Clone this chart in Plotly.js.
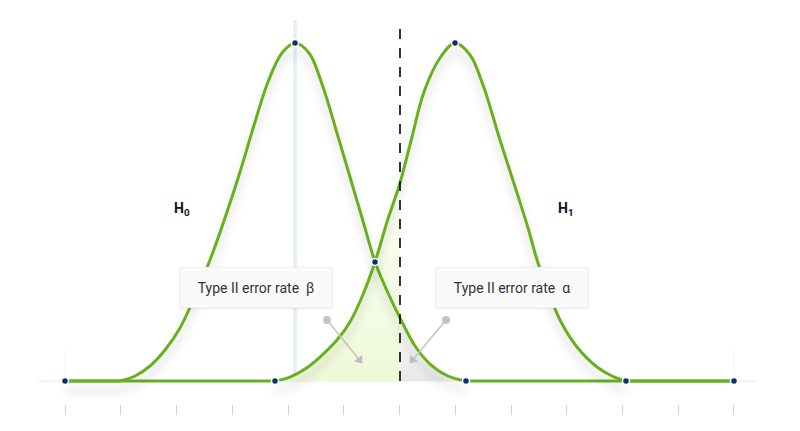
<!DOCTYPE html>
<html>
<head>
<meta charset="utf-8">
<script src="https://cdn.plot.ly/plotly-3.0.1.min.js"></script>
<style>
  html, body { margin: 0; padding: 0; background: #ffffff; }
  #chart { width: 800px; height: 431px; }
</style>
</head>
<body>
<div id="chart"></div>
<script>
// Tick positions along the horizontal axis
const tickValues = [0, 1, 2, 3, 4, 5, 6, 7, 8, 9, 10, 11, 12];

// Null hypothesis distribution (H0)
const h0X = [0, 0.987, 1.256, 1.525, 1.794, 2.063, 2.332, 2.601, 2.870, 3.139, 3.408, 3.641, 3.892, 4.126,
             4.377, 4.628, 4.879, 5.112, 5.345, 5.561, 5.794, 6.009, 6.278, 6.547, 6.870, 7.193, 12];
const h0Y = [0, 0, 1.48, 4.44, 9.17, 15.68, 25.15, 35.80, 48.22, 61.83, 76.63, 88.46, 97.04, 100,
             97.04, 86.98, 73.37, 60.36, 47.34, 35.21, 26.04, 18.64, 10.36, 5.03, 1.48, 0, 0];

// Alternative hypothesis distribution (H1)
const h1X = [0, 3.767, 4.036, 4.305, 4.574, 4.879, 5.112, 5.327, 5.561, 5.776, 6.009, 6.224, 6.439, 6.726, 6.996,
             7.265, 7.498, 7.803, 8.108, 8.305, 8.484, 8.682, 8.879, 9.184, 9.543, 9.812, 10.063, 12];
const h1Y = [0, 0, 1.18, 3.55, 7.10, 12.13, 17.46, 24.85, 35.21, 47.04, 58.58, 72.19, 85.50, 95.56, 100,
             96.45, 87.57, 71.30, 55.62, 45.27, 34.91, 26.04, 18.05, 10.06, 4.14, 1.48, 0, 0];

// Highlighted points
const dotX = [0, 3.767, 4.126, 5.561, 6.996, 7.193, 10.063, 12];
const dotY = [0, 0, 100, 35.21, 100, 0, 0, 0];

// Reference lines
const h0Mean = 4.126;
const criticalValue = 6.009;

// Pointer arrows: tails and heads
const arrowTailX = [4.70, 6.834], arrowTailY = [18.05, 18.05];
const arrowHeadX = [5.283, 6.235], arrowHeadY = [6.21, 6.21];

// Labels
const betaLabel = 'Type II error rate\u00a0 β';
const alphaLabel = 'Type II error rate\u00a0 α';
const h0Label = '<b>H<sub>0</sub></b>';
const h1Label = '<b>H<sub>1</sub></b>';

const green = '#6aaf1f';
const navy = '#0d2f6e';
const FONT = 'Roboto, "Open Sans", sans-serif';

// Axis geometry (pixels per data unit) used to orient the arrowheads
const W = 800, H = 431, M = { l: 0, r: 0, t: 0, b: 27 };
const xRange = [-1.166, 13.184], yRange = [-6.8, 112.72];
const pxX = (W - M.l - M.r) / (xRange[1] - xRange[0]);
const pxY = (H - M.t - M.b) / (yRange[1] - yRange[0]);

// Split a curve into its flat baseline ends and its bell-shaped middle
function splitCurve(xs, ys) {
  const first = ys.findIndex(v => v > 0) - 1;
  const last = ys.length - 1 - [...ys].reverse().findIndex(v => v > 0) + 1;
  return {
    flatX: [xs[0], xs[first], null, xs[last], xs[xs.length - 1]],
    flatY: [0, 0, null, 0, 0],
    bellX: xs.slice(first, last + 1),
    bellY: ys.slice(first, last + 1)
  };
}
const h0 = splitCurve(h0X, h0Y);
const h1 = splitCurve(h1X, h1Y);

// Shaded regions under the curves either side of the critical value
const betaX = [], betaY = [];
h1.bellX.forEach((x, i) => { if (x <= criticalValue + 1e-9) { betaX.push(x); betaY.push(h1.bellY[i]); } });
const alphaX = [], alphaY = [];
h0.bellX.forEach((x, i) => { if (x >= criticalValue - 1e-9) { alphaX.push(x); alphaY.push(h0.bellY[i]); } });

// Arrow shafts and head angles (degrees clockwise from up)
const shaftX = [], shaftY = [], headAngles = [];
arrowTailX.forEach((tx, i) => {
  shaftX.push(tx, arrowHeadX[i], null);
  shaftY.push(arrowTailY[i], arrowHeadY[i], null);
  const dx = (arrowHeadX[i] - tx) * pxX;
  const dy = -(arrowHeadY[i] - arrowTailY[i]) * pxY;
  headAngles.push(Math.atan2(dx, -dy) * 180 / Math.PI);
});

const traces = [
  {
    x: betaX, y: betaY, type: 'scatter', mode: 'lines',
    line: { width: 0, shape: 'spline', smoothing: 1 },
    fill: 'tozeroy',
    fillgradient: { type: 'vertical', colorscale: [[0, 'rgba(238,249,214,1)'], [1, 'rgba(244,252,230,0.35)']] },
    hoverinfo: 'skip', showlegend: false
  },
  {
    x: alphaX, y: alphaY, type: 'scatter', mode: 'lines',
    line: { width: 0, shape: 'spline', smoothing: 1 },
    fill: 'tozeroy',
    fillgradient: { type: 'vertical', colorscale: [[0, 'rgba(232,232,232,1)'], [1, 'rgba(240,240,240,0.35)']] },
    hoverinfo: 'skip', showlegend: false
  },
  {
    x: h0.flatX.concat([null], h1.flatX), y: h0.flatY.concat([null], h1.flatY),
    type: 'scatter', mode: 'lines', connectgaps: false,
    line: { color: green, width: 3 }, hoverinfo: 'skip', showlegend: false
  },
  {
    x: h0.bellX, y: h0.bellY, type: 'scatter', mode: 'lines',
    line: { color: green, width: 3, shape: 'spline', smoothing: 1 },
    hoverinfo: 'skip', showlegend: false
  },
  {
    x: h1.bellX, y: h1.bellY, type: 'scatter', mode: 'lines',
    line: { color: green, width: 3, shape: 'spline', smoothing: 1 },
    hoverinfo: 'skip', showlegend: false
  },
  {
    x: shaftX, y: shaftY, type: 'scatter', mode: 'lines', connectgaps: false,
    line: { color: '#c2c2c2', width: 1.5 }, hoverinfo: 'skip', showlegend: false
  },
  {
    x: arrowTailX, y: arrowTailY, type: 'scatter', mode: 'markers',
    marker: { symbol: 'circle', size: 8, color: '#c4c4c4' },
    hoverinfo: 'skip', showlegend: false
  },
  {
    x: arrowHeadX, y: arrowHeadY, type: 'scatter', mode: 'markers',
    marker: { symbol: 'triangle-up', size: 9, color: '#bdbdbd', angle: headAngles },
    hoverinfo: 'skip', showlegend: false
  },
  {
    x: dotX, y: dotY, type: 'scatter', mode: 'markers',
    marker: { color: navy, size: 7, line: { color: '#ffffff', width: 1.5 } },
    hoverinfo: 'skip', showlegend: false, cliponaxis: false
  }
];

const boxStyle = {
  showarrow: false, width: 150, height: 39, borderpad: 0, borderwidth: 1,
  bgcolor: '#fafafa', bordercolor: '#f1f1f1',
  font: { family: FONT, size: 14, color: '#333333' }
};

const layout = {
  width: W, height: H,
  margin: M,
  paper_bgcolor: '#ffffff', plot_bgcolor: '#ffffff',
  xaxis: {
    range: xRange, showgrid: false, zeroline: false, showline: false,
    tickvals: tickValues, showticklabels: false, ticks: 'outside',
    ticklen: 10, tickwidth: 1, tickcolor: '#cfcfcf', fixedrange: true
  },
  yaxis: { range: yRange, visible: false, fixedrange: true },
  shapes: [
    { type: 'line', layer: 'below', x0: -0.48, x1: 12.41, y0: 0, y1: 0, line: { color: '#e8e8e8', width: 1 } },
    { type: 'line', layer: 'below', x0: 0, x1: 0, y0: 0, y1: 9, line: { color: '#f2f2f2', width: 1 } },
    { type: 'line', layer: 'below', x0: 12, x1: 12, y0: 0, y1: 9, line: { color: '#f2f2f2', width: 1 } },
    { type: 'line', layer: 'below', x0: h0Mean, x1: h0Mean, y0: 0, y1: 106.8, line: { color: '#e4edfa', width: 3.5 } },
    { type: 'line', layer: 'above', x0: criticalValue, x1: criticalValue, y0: 0, y1: 106.5, line: { color: '#111111', width: 1.7, dash: '10px,9px' } }
  ],
  annotations: [
    Object.assign({ x: 3.43, y: 27.8, text: betaLabel }, boxStyle),
    Object.assign({ x: 8.01, y: 27.8, text: alphaLabel }, boxStyle),
    { x: 2.09, y: 51, text: h0Label, showarrow: false, font: { family: FONT, size: 14, color: '#111111' } },
    { x: 8.98, y: 51, text: h1Label, showarrow: false, font: { family: FONT, size: 14, color: '#111111' } }
  ]
};

Plotly.newPlot('chart', traces, layout, { staticPlot: true, displayModeBar: false }).then(() => {
  const svgs = document.querySelectorAll('#chart svg');
  // Drop unused, empty text nodes left in the SVG
  svgs.forEach(s => s.querySelectorAll('text').forEach(t => {
    if (!t.textContent.trim()) t.remove();
  }));

  // Soft drop shadows under the curves and the label boxes
  const svg = document.querySelector('#chart .main-svg');
  const NS = 'http://www.w3.org/2000/svg';
  let defs = svg.querySelector('defs');
  if (!defs) { defs = document.createElementNS(NS, 'defs'); svg.insertBefore(defs, svg.firstChild); }

  function makeShadow(id, dy, blur, opacity) {
    const f = document.createElementNS(NS, 'filter');
    f.setAttribute('id', id);
    f.setAttribute('filterUnits', 'userSpaceOnUse');
    f.setAttribute('x', '-200'); f.setAttribute('y', '-200');
    f.setAttribute('width', '1200'); f.setAttribute('height', '900');
    const d = document.createElementNS(NS, 'feDropShadow');
    d.setAttribute('dx', '0'); d.setAttribute('dy', dy);
    d.setAttribute('stdDeviation', blur);
    d.setAttribute('flood-color', '#000000');
    d.setAttribute('flood-opacity', opacity);
    f.appendChild(d);
    defs.appendChild(f);
  }
  makeShadow('curveShadow', 9, 4.5, 0.17);
  makeShadow('boxShadow', 1, 1.5, 0.08);

  const groups = document.querySelectorAll('#chart .scatterlayer .trace');
  [2, 3, 4].forEach(i => {
    const p = groups[i] && groups[i].querySelector('path.js-line');
    if (p) p.setAttribute('filter', 'url(#curveShadow)');
  });
  document.querySelectorAll('#chart .annotation .annotation-text-g rect.bg').forEach(r => {
    if (parseFloat(r.getAttribute('width')) > 100) r.setAttribute('filter', 'url(#boxShadow)');
  });
});
</script>
</body>
</html>
